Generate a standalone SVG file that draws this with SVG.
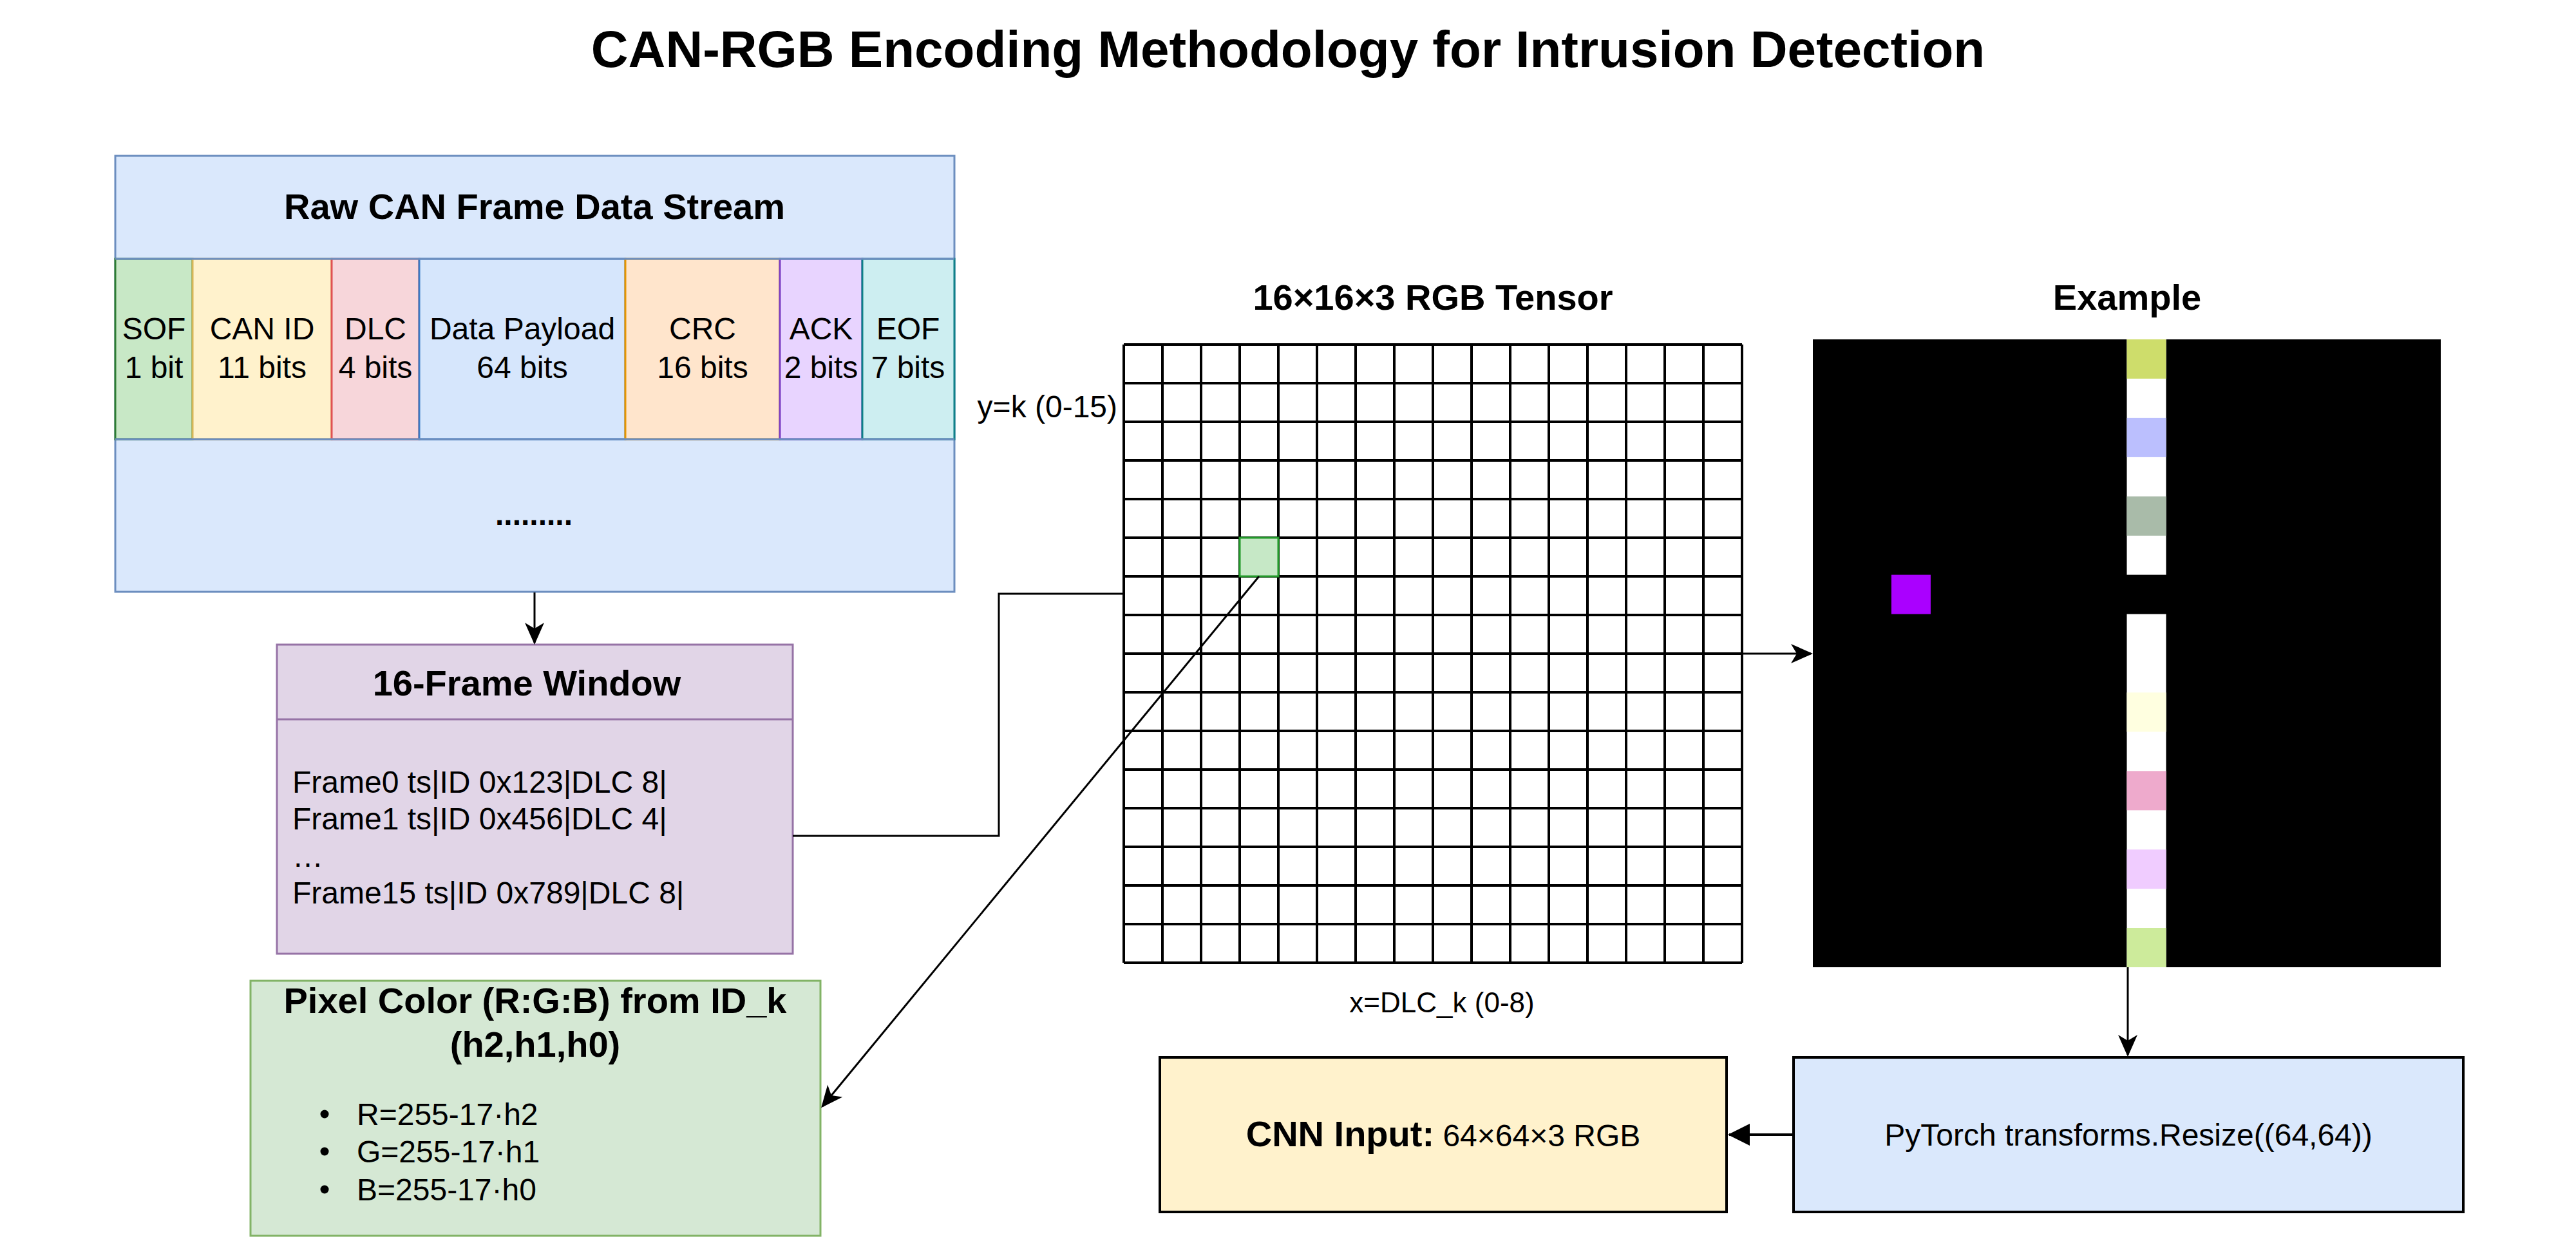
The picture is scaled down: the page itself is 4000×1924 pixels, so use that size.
<svg xmlns="http://www.w3.org/2000/svg" width="4000" height="1924" viewBox="0 0 4000 1924">
<style>
text{font-family:"Liberation Sans",Arial,Helvetica,sans-serif;fill:#000}
.t{font-size:48px}
.b{font-weight:bold;font-size:56px}
.c{text-anchor:middle}
.g{stroke:#000;stroke-width:4;fill:none}
.conn{stroke:#000;stroke-width:3;fill:none}
</style>
<defs>
<marker id="arr" markerUnits="userSpaceOnUse" viewBox="-36 -18 42 36" refX="0" refY="0" markerWidth="42" markerHeight="36" orient="auto">
<path d="M3,0 L-31,-15 L-22,0 L-31,15 Z" fill="#000"/>
</marker>
<marker id="blk" markerUnits="userSpaceOnUse" viewBox="-36 -20 42 40" refX="0" refY="0" markerWidth="42" markerHeight="40" orient="auto">
<path d="M2,0 L-32,-17 L-32,17 Z" fill="#000"/>
</marker>
</defs>
<rect width="4000" height="1924" fill="#fff"/>
<text id="title" class="c" x="2000" y="104" style="font-size:80px;font-weight:bold">CAN-RGB Encoding Methodology for Intrusion Detection</text>

<g id="raw-can">
<rect x="179" y="242" width="1303" height="677" fill="#dae8fc" stroke="#6c8ebf" stroke-width="3"/>
<text class="b c" x="830" y="340">Raw CAN Frame Data Stream</text>
<rect x="179" y="402" width="120" height="280" fill="#c8e8c6" stroke="#2e7d32" stroke-width="3"/>
<rect x="299" y="402" width="216" height="280" fill="#fff2cc" stroke="#d6b656" stroke-width="3"/>
<rect x="515" y="402" width="136" height="280" fill="#f7d6da" stroke="#e05252" stroke-width="3"/>
<rect x="651" y="402" width="320" height="280" fill="#d6e6fc" stroke="#3b7cc6" stroke-width="3"/>
<rect x="971" y="402" width="240" height="280" fill="#ffe5cc" stroke="#e69500" stroke-width="3"/>
<rect x="1211" y="402" width="128" height="280" fill="#e8d4ff" stroke="#7b3fc4" stroke-width="3"/>
<rect x="1339" y="402" width="143" height="280" fill="#cdeef1" stroke="#0e8088" stroke-width="3"/>
<line x1="179" y1="402" x2="1482" y2="402" stroke="#6c8ebf" stroke-width="3"/>
<line x1="179" y1="682" x2="1482" y2="682" stroke="#6c8ebf" stroke-width="3"/>
<text class="t c" x="239" y="527">SOF</text><text class="t c" x="239" y="587">1 bit</text>
<text class="t c" x="407" y="527">CAN ID</text><text class="t c" x="407" y="587">11 bits</text>
<text class="t c" x="583" y="527">DLC</text><text class="t c" x="583" y="587">4 bits</text>
<text class="t c" x="811" y="527">Data Payload</text><text class="t c" x="811" y="587">64 bits</text>
<text class="t c" x="1091" y="527">CRC</text><text class="t c" x="1091" y="587">16 bits</text>
<text class="t c" x="1275" y="527">ACK</text><text class="t c" x="1275" y="587">2 bits</text>
<text class="t c" x="1410" y="527">EOF</text><text class="t c" x="1410" y="587">7 bits</text>
<text class="t c" x="829" y="815" style="font-weight:bold">.........</text>
</g>

<g id="frame-window">
<rect x="430" y="1001" width="801" height="480" fill="#e1d5e7" stroke="#9673a6" stroke-width="3"/>
<line x1="430" y1="1117" x2="1231" y2="1117" stroke="#9673a6" stroke-width="3"/>
<text class="b c" x="818" y="1080">16-Frame Window</text>
<text class="t" x="454" y="1231">Frame0 ts|ID 0x123|DLC 8|</text>
<text class="t" x="454" y="1288">Frame1 ts|ID 0x456|DLC 4|</text>
<text class="t" x="454" y="1346">…</text>
<text class="t" x="454" y="1403">Frame15 ts|ID 0x789|DLC 8|</text>
</g>

<g id="pixel-color">
<rect x="389" y="1523" width="885" height="396" fill="#d5e8d4" stroke="#82b366" stroke-width="3"/>
<text class="b c" x="831" y="1573">Pixel Color (R:G:B) from ID_k</text>
<text class="b c" x="831" y="1641">(h2,h1,h0)</text>
<circle cx="504" cy="1730" r="6.5"/><text class="t" x="554" y="1747">R=255-17·h2</text>
<circle cx="504" cy="1788" r="6.5"/><text class="t" x="554" y="1805">G=255-17·h1</text>
<circle cx="504" cy="1847" r="6.5"/><text class="t" x="554" y="1864">B=255-17·h0</text>
</g>

<g id="tensor">
<text class="b c" x="2225" y="481">16×16×3 RGB Tensor</text>
<rect x="1745" y="535" width="960" height="960" fill="#fff"/>
<path class="g" d="M1745,535V1495M1805,535V1495M1865,535V1495M1925,535V1495M1985,535V1495M2045,535V1495M2105,535V1495M2165,535V1495M2225,535V1495M2285,535V1495M2345,535V1495M2405,535V1495M2465,535V1495M2525,535V1495M2585,535V1495M2645,535V1495M2705,535V1495M1745,535H2705M1745,595H2705M1745,655H2705M1745,715H2705M1745,775H2705M1745,835H2705M1745,895H2705M1745,955H2705M1745,1015H2705M1745,1075H2705M1745,1135H2705M1745,1195H2705M1745,1255H2705M1745,1315H2705M1745,1375H2705M1745,1435H2705M1745,1495H2705"/>
<rect x="1925" y="835" width="60" height="60" fill="#c6e8c6" stroke="#22992a" stroke-width="3"/>
<text class="t" x="1735" y="648" text-anchor="end">y=k (0-15)</text>
<text x="2239" y="1572" text-anchor="middle" style="font-size:44px">x=DLC_k (0-8)</text>
</g>

<g id="example">
<text class="b c" x="3303" y="481">Example</text>
<rect x="2815" y="527" width="975" height="975" fill="#000"/>
<rect x="3302.5" y="527" width="61" height="365.6" fill="#fff"/>
<rect x="3302.5" y="953.6" width="61" height="548.4" fill="#fff"/>
<rect x="3302.5" y="527" width="61" height="61" fill="#cedd6b"/>
<rect x="3302.5" y="648.9" width="61" height="61" fill="#bbbffe"/>
<rect x="3302.5" y="770.8" width="61" height="61" fill="#a9bba9"/>
<rect x="3302.5" y="1075.4" width="61" height="61" fill="#ffffe0"/>
<rect x="3302.5" y="1197.3" width="61" height="61" fill="#eeaacc"/>
<rect x="3302.5" y="1319.2" width="61" height="61" fill="#f0ccff"/>
<rect x="3302.5" y="1441" width="61" height="61" fill="#cdeb9b"/>
<rect x="2936.9" y="892.6" width="61" height="61" fill="#aa00ff"/>
</g>

<g id="resize">
<rect x="2785" y="1642" width="1040" height="240" fill="#dae8fc" stroke="#000" stroke-width="4"/>
<text class="t c" x="3305" y="1779">PyTorch transforms.Resize((64,64))</text>
</g>

<g id="cnn-input">
<rect x="1801" y="1642" width="880" height="240" fill="#fff2cc" stroke="#000" stroke-width="4"/>
<text class="c" x="2241" y="1780"><tspan style="font-weight:bold;font-size:56px">CNN Input:</tspan><tspan style="font-size:48px"> 64×64×3 RGB</tspan></text>
</g>

<g id="connectors">
<path class="conn" d="M830,920V998" marker-end="url(#arr)"/>
<path class="conn" d="M1231,1298H1551V922H1745"/>
<path class="conn" d="M1955,895L1277,1718" marker-end="url(#arr)"/>
<path class="conn" d="M2705,1015H2812" marker-end="url(#arr)"/>
<path class="conn" d="M3304,1502V1638" marker-end="url(#arr)"/>
<path d="M2785,1762H2685" stroke="#000" stroke-width="4" fill="none" marker-end="url(#blk)"/>
</g>
</svg>
